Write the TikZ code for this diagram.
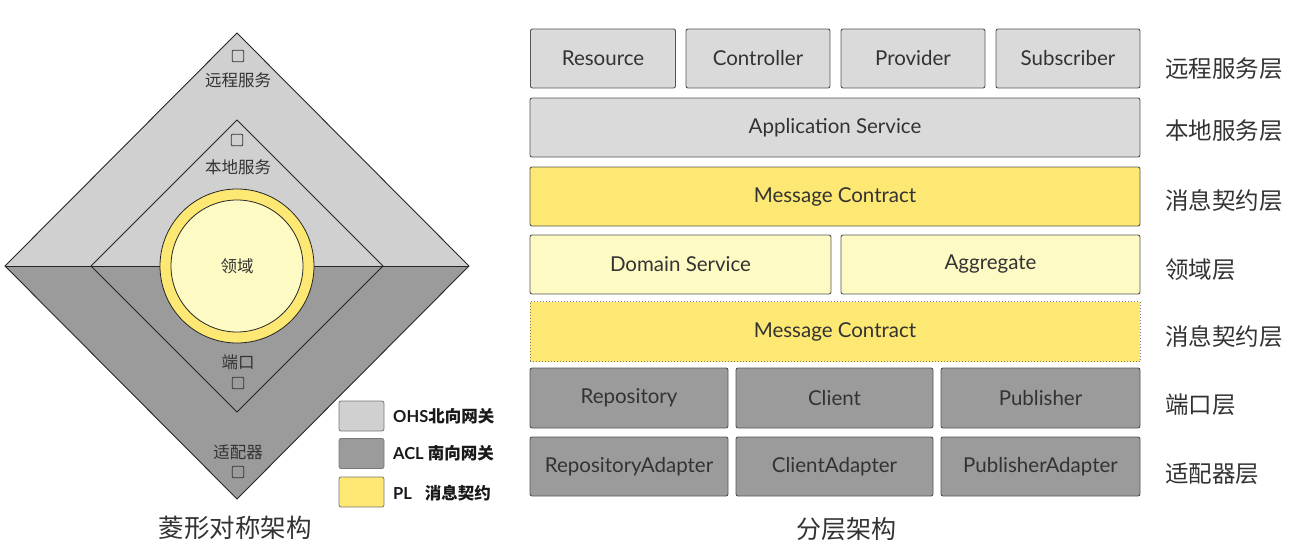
\documentclass[tikz,border=0pt]{standalone}
\usepackage{fontspec}
\setmainfont{Lato}
\newfontfamily\cjk{Noto Sans CJK SC}
\definecolor{lgray}{HTML}{DADADA}
\definecolor{dtop}{HTML}{D0D0D0}
\definecolor{dgray}{HTML}{9B9B9B}
\definecolor{yel}{HTML}{FCE872}
\definecolor{lyel}{HTML}{FEFAC4}
\definecolor{bord}{HTML}{555555}
\definecolor{txt}{HTML}{333333}
\newcommand\bxfont{\fontsize{20.5}{24}\selectfont}
\newcommand\lblfont{\cjk\fontsize{23.5}{27}\selectfont}
\newcommand\smfont{\cjk\fontsize{16.5}{19}\selectfont}
\tikzset{
  box/.style={draw=bord, rounded corners=2pt, line width=0.9pt, inner sep=0pt, font=\bxfont, text=txt},
  lbox/.style={box, fill=lgray},
  ybox/.style={box, fill=yel},
  lybox/.style={box, fill=lyel},
  gbox/.style={box, fill=dgray},
  dbox/.style={fill=yel, draw=bord!80, dotted, line width=1pt, inner sep=0pt, font=\bxfont, text=txt},
  rowlbl/.style={anchor=west, font=\lblfont, text=txt, inner sep=0pt},
  sq/.style={draw=txt, line width=0.8pt, minimum size=11.5pt, inner sep=0pt, rounded corners=1pt},
  dlbl/.style={font=\smfont, text=txt, inner sep=0pt},
  leg/.style={draw=bord!80, line width=0.8pt, rounded corners=2pt, minimum width=45pt, minimum height=30pt, inner sep=0pt},
  legtxt/.style={anchor=west, inner sep=0pt, text=black!90, font=\fontsize{16.5}{19}\selectfont\bfseries},
  dline/.style={draw=black!85, line width=0.9pt},
}
\begin{document}
\begin{tikzpicture}[x=1pt,y=-1pt]
\useasboundingbox (0,0) rectangle (1296,551);
% ---------- diamond ----------
\coordinate (OT) at (237,33);
\coordinate (OL) at (5,266);
\coordinate (OR) at (469,266);
\coordinate (OB) at (237,499);
\coordinate (IT) at (237,120);
\coordinate (IL) at (91,266);
\coordinate (IR) at (383,266);
\coordinate (IB) at (237,412);
\fill[dtop] (OL) -- (OT) -- (OR) -- cycle;
\fill[dgray] (OL) -- (OR) -- (OB) -- cycle;
\draw[dline] (OL) -- (OR);
\draw[dline, line join=miter] (OL) -- (OT) -- (OR) -- (OB) -- cycle;
\draw[dline, line join=miter] (IL) -- (IT) -- (IR) -- (IB) -- cycle;
\node[circle, draw=black!85, line width=0.8pt, fill=yel, minimum size=154pt, inner sep=0pt] (ring) at (237,266) {};
\node[circle, draw=black!85, line width=0.8pt, fill=lyel, minimum size=132pt, inner sep=0pt, font=\smfont, text=txt] (dom) at (237,266) {领域};
\node[sq] (s1) at (238,56) {};
\node[dlbl] (t1) at (238,80) {远程服务};
\node[sq] (s2) at (237,140) {};
\node[dlbl] (t2) at (238,167) {本地服务};
\node[dlbl] (t3) at (238,362) {端口};
\node[sq] (s3) at (238,383) {};
\node[dlbl] (t4) at (238,452) {适配器};
\node[sq] (s4) at (238,472) {};
% legend
\node[leg, fill=dtop] (l1) at (361.5,416) {};
\node[leg, fill=dgray] (l2) at (361.5,453.5) {};
\node[leg, fill=yel] (l3) at (361.5,492) {};
\node[legtxt] (lt1) at (393,416) {OHS{\cjk\bfseries 北向网关}};
\node[legtxt] (lt2) at (393,453.5) {ACL {\cjk\bfseries 南向网关}};
\node[legtxt] (lt3) at (393,493) {PL\hspace{13pt}{\cjk\bfseries 消息契约}};
\node[font=\cjk\fontsize{25.5}{28}\selectfont, text=txt, inner sep=0pt] (cap1) at (235,528) {菱形对称架构};
% ---------- layered ----------
\node[lbox, minimum width=145pt, minimum height=59pt] (res) at (603,58.5) {Resource};
\node[lbox, minimum width=144pt, minimum height=59pt] (ctl) at (758,58.5) {Controller};
\node[lbox, minimum width=144pt, minimum height=59pt] (prv) at (913,58.5) {Provider};
\node[lbox, minimum width=144pt, minimum height=59pt] (sub) at (1068,58.5) {Subscriber};
\node[lbox, minimum width=610pt, minimum height=59pt] (app) at (835,127.5) {Application Service};
\node[ybox, minimum width=610pt, minimum height=59pt] (mc1) at (835,196.5) {Message Contract};
\node[lybox, minimum width=301pt, minimum height=59pt] (dsv) at (680.5,264.5) {Domain Service};
\node[lybox, minimum width=299pt, minimum height=59pt] (agg) at (990.5,264.5) {Aggregate};
\node[dbox, minimum width=610pt, minimum height=60pt] (mc2) at (835,331.5) {Message Contract};
\node[gbox, minimum width=198pt, minimum height=60pt] (rep) at (629,398) {Repository};
\node[gbox, minimum width=197pt, minimum height=60pt] (cli) at (834.5,398) {Client};
\node[gbox, minimum width=199pt, minimum height=60pt] (pub) at (1040.5,398) {Publisher};
\node[gbox, minimum width=198pt, minimum height=59pt] (repa) at (629,466.5) {RepositoryAdapter};
\node[gbox, minimum width=197pt, minimum height=59pt] (clia) at (834.5,466.5) {ClientAdapter};
\node[gbox, minimum width=199pt, minimum height=59pt] (puba) at (1040.5,466.5) {PublisherAdapter};
\node[rowlbl] (r1) at (1165,69) {远程服务层};
\node[rowlbl] (r2) at (1165,131) {本地服务层};
\node[rowlbl] (r3) at (1165,201) {消息契约层};
\node[rowlbl] (r4) at (1165,270) {领域层};
\node[rowlbl] (r5) at (1165,337) {消息契约层};
\node[rowlbl] (r6) at (1165,405) {端口层};
\node[rowlbl] (r7) at (1165,474) {适配器层};
\node[font=\cjk\fontsize{25}{28}\selectfont, text=txt, inner sep=0pt] (cap2) at (846,529) {分层架构};
\end{tikzpicture}
\end{document}
